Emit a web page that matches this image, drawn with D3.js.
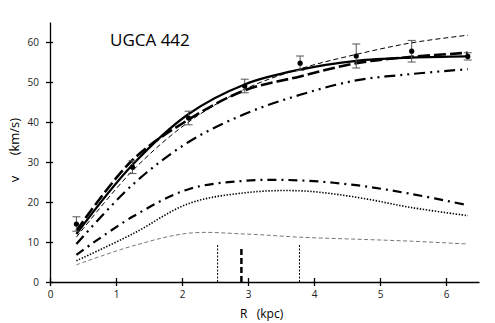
<!DOCTYPE html>
<html>
<head>
<meta charset="utf-8">
<script src="https://cdn.jsdelivr.net/npm/d3@7"></script>
<style>
  body { margin: 0; background: #fff; }
  text { font-family: "Open Sans", sans-serif; }
</style>
</head>
<body>
<div id="chart"></div>
<script>
const width = 495;
const height = 323;

// radii (kpc) where the curves and observed points sit
const radius = [0.40, 1.25, 2.10, 2.95, 3.79, 4.64, 5.48, 6.33];
const vObs = [14.5, 28.7, 41.0, 49.0, 54.7, 56.5, 57.7, 56.4];
const vErr = [1.8, 1.6, 1.7, 1.7, 1.8, 3.0, 2.7, 0.9];

const vTotal = [12.0, 29.3, 42.0, 49.4, 53.1, 55.3, 56.1, 56.4];
const vThin = [11.2, 27.8, 40.0, 48.2, 53.3, 56.9, 59.8, 61.7];
const vLong = [12.8, 30.5, 40.6, 47.9, 51.4, 54.7, 56.3, 57.3];
const vDashDotDot = [9.5, 24.3, 35.0, 42.0, 46.8, 50.4, 52.0, 53.2];
const vDashDot = [6.8, 16.3, 23.2, 25.3, 25.4, 24.2, 22.0, 19.2];
const vDotted = [5.3, 12.0, 19.6, 22.3, 22.8, 21.2, 18.6, 16.6];
const vGas = [4.3, 9.0, 12.2, 12.0, 11.2, 10.7, 10.2, 9.5];

// vertical markers near the bottom
const markerR = [2.54, 2.90, 3.78];
const markerTop = [9.5, 8.7, 9.5];
const markerHeavy = [false, true, false];

const xTicks = [0, 1, 2, 3, 4, 5, 6];
const yTicks = [0, 10, 20, 30, 40, 50, 60];

const svg = d3.select("#chart")
  .append("svg")
  .attr("width", width)
  .attr("height", height);

const x = d3.scaleLinear().domain([0, 6.5]).range([50, 479]);
const y = d3.scaleLinear().domain([0, 65]).range([282, 22]);

// axes
const xAxis = svg.append("g")
  .attr("transform", `translate(0,${y(0)})`)
  .call(d3.axisBottom(x).tickValues(xTicks).tickFormat(d3.format("d")).tickSizeInner(5).tickSizeOuter(0));
xAxis.selectAll(".tick line").attr("y1", -4).attr("y2", 4);
xAxis.selectAll(".tick text").attr("y", 7).attr("dy", "0.9em");

const yAxis = svg.append("g")
  .attr("transform", `translate(${x(0)},0)`)
  .call(d3.axisLeft(y).tickValues(yTicks).tickSizeInner(4).tickSizeOuter(0));
yAxis.selectAll(".tick line").attr("x1", -4).attr("x2", 3);
yAxis.selectAll(".tick text").attr("x", -11);

svg.selectAll(".domain").attr("stroke", "#000").attr("stroke-width", 1.3);
svg.selectAll(".tick line").attr("stroke", "#000").attr("stroke-width", 1.3);
svg.selectAll(".tick text")
  .attr("font-family", "Open Sans, sans-serif")
  .attr("font-size", 10)
  .attr("fill", "#222");

// curves
const lineGen = d3.line()
  .x((d, i) => x(radius[i]))
  .y(d => y(d))
  .curve(d3.curveCatmullRom.alpha(0.5));

const curves = [
  { data: vGas, stroke: "#777", width: 1, dash: "4,2.5" },
  { data: vDotted, stroke: "#000", width: 1.6, dash: "1.4,1.6" },
  { data: vDashDot, stroke: "#000", width: 2.2, dash: "9,5,2,5" },
  { data: vDashDotDot, stroke: "#000", width: 2.2, dash: "11,5,2,5,2,5" },
  { data: vThin, stroke: "#000", width: 1, dash: "5,3" },
  { data: vLong, stroke: "#000", width: 2.6, dash: "12,4" },
  { data: vTotal, stroke: "#000", width: 2.2, dash: null }
];

curves.forEach(c => {
  svg.append("path")
    .datum(c.data)
    .attr("d", lineGen)
    .attr("fill", "none")
    .attr("stroke", c.stroke)
    .attr("stroke-width", c.width)
    .attr("stroke-dasharray", c.dash);
});

// vertical markers
svg.selectAll(".marker")
  .data(markerR)
  .enter()
  .append("line")
  .attr("x1", d => x(d))
  .attr("x2", d => x(d))
  .attr("y1", y(0))
  .attr("y2", (d, i) => y(markerTop[i]))
  .attr("stroke", "#000")
  .attr("stroke-width", (d, i) => markerHeavy[i] ? 2.5 : 1)
  .attr("stroke-dasharray", (d, i) => markerHeavy[i] ? "6,3" : "2,1.5");

// error bars and points
const errG = svg.append("g").attr("stroke", "#555").attr("stroke-width", 1);
radius.forEach((r, i) => {
  const cx = x(r);
  const lo = y(vObs[i] - vErr[i]);
  const hi = y(vObs[i] + vErr[i]);
  errG.append("line").attr("x1", cx).attr("x2", cx).attr("y1", lo).attr("y2", hi);
  errG.append("line").attr("x1", cx - 4).attr("x2", cx + 4).attr("y1", lo).attr("y2", lo);
  errG.append("line").attr("x1", cx - 4).attr("x2", cx + 4).attr("y1", hi).attr("y2", hi);
});

svg.selectAll(".pt")
  .data(vObs)
  .enter()
  .append("circle")
  .attr("cx", (d, i) => x(radius[i]))
  .attr("cy", d => y(d))
  .attr("r", 2.6)
  .attr("fill", "#000");

// labels
svg.append("text")
  .attr("x", 110)
  .attr("y", 46)
  .attr("font-size", 17)
  .attr("fill", "#000")
  .text("UGCA 442");

svg.append("text")
  .attr("x", 240)
  .attr("y", 318)
  .attr("font-size", 12)
  .attr("fill", "#000")
  .text("R\u00a0\u00a0\u00a0(kpc)");

svg.append("text")
  .attr("transform", "translate(19,150) rotate(-90)")
  .attr("text-anchor", "middle")
  .attr("font-size", 13)
  .attr("fill", "#000")
  .text("v\u00a0\u00a0\u00a0\u00a0\u00a0\u00a0(km/s)");
</script>
</body>
</html>
